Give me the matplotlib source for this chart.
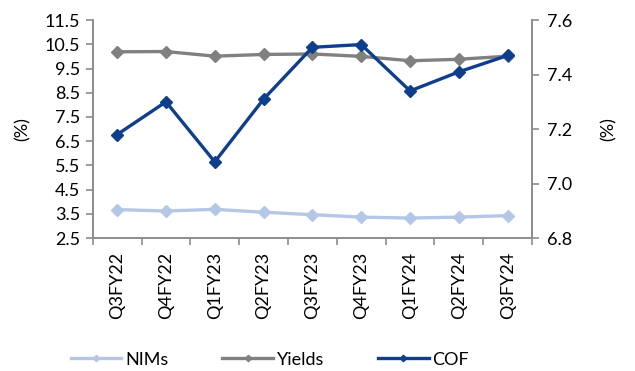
import matplotlib
matplotlib.use("Agg")
import matplotlib.pyplot as plt
import numpy as np

quarters = ["Q3FY22", "Q4FY22", "Q1FY23", "Q2FY23", "Q3FY23",
            "Q4FY23", "Q1FY24", "Q2FY24", "Q3FY24"]
nims = [3.68, 3.62, 3.69, 3.57, 3.47, 3.37, 3.33, 3.37, 3.43]
yields = [10.19, 10.2, 10.01, 10.08, 10.1, 10.0, 9.82, 9.88, 10.01]
cof = [7.18, 7.30, 7.08, 7.31, 7.50, 7.51, 7.34, 7.41, 7.47]

left_ticks = [2.5, 3.5, 4.5, 5.5, 6.5, 7.5, 8.5, 9.5, 10.5, 11.5]
right_ticks = [6.8, 7.0, 7.2, 7.4, 7.6]

plt.rcParams["font.family"] = ["Lato", "DejaVu Sans"]
plt.rcParams["font.size"] = 13

C_NIM = "#B4C7E7"
C_YLD = "#808080"
C_COF = "#0E3E8C"
C_AX = "#8C8C8C"

fig = plt.figure(figsize=(6.35, 3.71), dpi=100)
ax = fig.add_axes([0.146, 0.358, 0.692, 0.588])
ax2 = ax.twinx()

x = np.arange(len(quarters))
style = dict(marker="D", markersize=6.5, linewidth=2.4)
l1, = ax.plot(x, nims, color=C_NIM, label="NIMs", **style)
l2, = ax.plot(x, yields, color=C_YLD, label="Yields", **style)
l3, = ax2.plot(x, cof, color=C_COF, label="COF", **style)

ax.set_xlim(-0.5, len(quarters) - 0.5)
ax.set_ylim(2.5, 11.5)
ax.set_yticks(left_ticks)
ax.set_yticklabels([f"{v:.1f}" for v in left_ticks])
ax2.set_ylim(6.8, 7.6)
ax2.set_yticks(right_ticks)
ax2.set_yticklabels([f"{v:.1f}" for v in right_ticks])

# category labels centred, tick marks on the boundaries
ax.set_xticks(x)
ax.set_xticklabels(quarters, rotation=90)
ax.set_xticks(np.arange(-0.5, len(quarters)), minor=True)
ax.tick_params(axis="x", which="major", length=0, pad=10)
ax.tick_params(axis="x", which="minor", length=5, color=C_AX, width=1.2)
ax.tick_params(axis="y", length=5, color=C_AX, width=1.2, pad=4)
ax2.tick_params(axis="y", length=5, color=C_AX, width=1.2, pad=6)

for a in (ax, ax2):
    a.spines["top"].set_visible(False)
    for side in ("left", "right", "bottom"):
        a.spines[side].set_color(C_AX)
        a.spines[side].set_linewidth(1.2)

ax.set_ylabel("(%)", labelpad=10)
ax2.set_ylabel("(%)", rotation=90, labelpad=20)

fig.legend(handles=[l1, l2, l3], loc="lower center", ncol=3,
           bbox_to_anchor=(0.425, -0.035), frameon=False, columnspacing=3.0,
           handlelength=2.8, handletextpad=0.2, markerscale=0.5)

fig.savefig("out.png", dpi=100)
